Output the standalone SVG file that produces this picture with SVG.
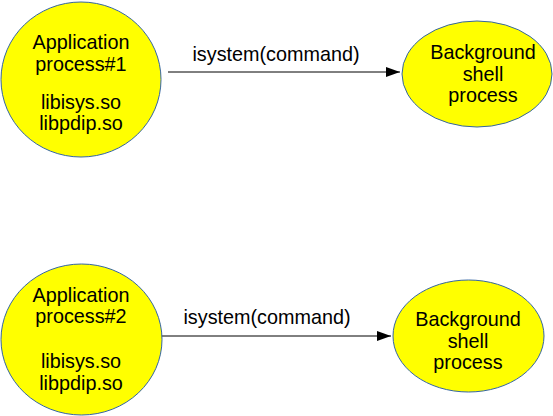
<svg xmlns="http://www.w3.org/2000/svg" width="553" height="416" viewBox="0 0 553 416">
<style>
.node{fill:#ffff00;stroke:#3465a4;stroke-width:1}
text{font-family:"Liberation Sans",Arial,sans-serif;font-size:19.8px;fill:#000;text-anchor:middle}
.conn{stroke:#000;stroke-width:1;fill:none}
</style>
<defs>
<marker id="arr" markerWidth="14" markerHeight="10" refX="14" refY="5" orient="auto" markerUnits="userSpaceOnUse">
<path d="M0,0 L14,5 L0,10 Z" fill="#000"/>
</marker>
</defs>
<rect width="553" height="416" fill="#fff"/>
<g id="connectors">
<line class="conn" x1="168" y1="72" x2="400" y2="72" marker-end="url(#arr)"/>
<text x="276" y="61">isystem(command)</text>
<line class="conn" x1="161" y1="336" x2="391" y2="336" marker-end="url(#arr)"/>
<text x="267" y="324">isystem(command)</text>
</g>
<g id="app1">
<ellipse class="node" cx="81" cy="79.5" rx="80" ry="77.5"/>
<text x="81" y="49">Application</text>
<text x="81" y="71">process#1</text>
<text x="81" y="109">libisys.so</text>
<text x="81" y="130">libpdip.so</text>
</g>
<g id="shell1">
<ellipse class="node" cx="477" cy="74" rx="75" ry="53"/>
<text x="483" y="59">Background</text>
<text x="483" y="81">shell</text>
<text x="483" y="102">process</text>
</g>
<g id="app2">
<ellipse class="node" cx="81.5" cy="339.5" rx="80.5" ry="75.5"/>
<text x="81" y="302">Application</text>
<text x="81" y="323">process#2</text>
<text x="81" y="368">libisys.so</text>
<text x="81" y="390">libpdip.so</text>
</g>
<g id="shell2">
<ellipse class="node" cx="468.5" cy="336" rx="75.5" ry="56"/>
<text x="468" y="326">Background</text>
<text x="468" y="348">shell</text>
<text x="468" y="369">process</text>
</g>
</svg>
